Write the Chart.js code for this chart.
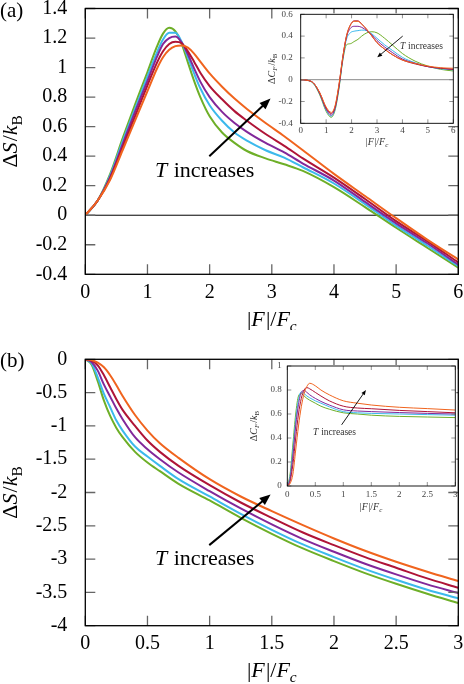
<!DOCTYPE html>
<html>
<head>
<meta charset="utf-8">
<script src="https://cdn.jsdelivr.net/npm/chart.js@4.4.0/dist/chart.umd.min.js"></script>
<style>
  html, body { margin: 0; padding: 0; background: #fff; }
  #wrap { position: relative; width: 464px; height: 684px; overflow: hidden; }
  canvas { position: absolute; }
</style>
</head>
<body>
<div id="wrap">
  <canvas id="mainA" width="464" height="330" style="left:0;top:0"></canvas>
  <canvas id="insetA" width="214" height="160" style="left:250px;top:0"></canvas>
  <canvas id="mainB" width="464" height="354" style="left:0;top:330px"></canvas>
  <canvas id="insetB" width="234" height="185" style="left:230px;top:340px"></canvas>
</div>
<script>
// 온도 순서: T1(가장 낮음, 초록) -> T5(가장 높음, 주황)
const seriesNames = ['T1', 'T2', 'T3', 'T4', 'T5'];
const seriesColors = ['#6eaf28', '#3cb9ec', '#82289a', '#af1437', '#f0641e'];

// (a) 본 그래프: ΔS/kB vs |F|/Fc
const xA = [0, 0.2, 0.4, 0.6, 0.8, 1.0, 1.15, 1.25, 1.35, 1.45, 1.55, 1.65, 1.75, 1.85, 2.0, 2.2, 2.4, 2.6, 2.9, 3.2, 3.5, 4.0, 4.5, 5.0, 5.5, 6.0];
const dSA_T1 = [0, 0.10, 0.28, 0.52, 0.75, 0.97, 1.14, 1.23, 1.27, 1.245, 1.16, 1.035, 0.91, 0.80, 0.67, 0.56, 0.49, 0.435, 0.385, 0.345, 0.30, 0.19, 0.055, -0.085, -0.22, -0.355];
const dSA_T2 = [0, 0.10, 0.27, 0.50, 0.72, 0.94, 1.10, 1.19, 1.235, 1.235, 1.175, 1.07, 0.96, 0.86, 0.745, 0.64, 0.56, 0.505, 0.44, 0.39, 0.325, 0.215, 0.075, -0.07, -0.205, -0.345];
const dSA_T3 = [0, 0.10, 0.26, 0.48, 0.70, 0.91, 1.07, 1.16, 1.20, 1.21, 1.17, 1.09, 0.995, 0.905, 0.80, 0.70, 0.625, 0.565, 0.49, 0.425, 0.35, 0.235, 0.09, -0.055, -0.19, -0.335];
const dSA_T4 = [0, 0.10, 0.25, 0.46, 0.67, 0.88, 1.03, 1.11, 1.16, 1.175, 1.165, 1.11, 1.04, 0.965, 0.875, 0.785, 0.705, 0.64, 0.55, 0.47, 0.385, 0.255, 0.11, -0.04, -0.175, -0.32];
const dSA_T5 = [0, 0.10, 0.24, 0.44, 0.64, 0.84, 0.99, 1.07, 1.12, 1.145, 1.15, 1.135, 1.095, 1.04, 0.96, 0.87, 0.79, 0.72, 0.625, 0.535, 0.44, 0.28, 0.13, -0.02, -0.165, -0.30];
const xTicksA = [0, 1, 2, 3, 4, 5, 6];
const yTicksA = [-0.4, -0.2, 0, 0.2, 0.4, 0.6, 0.8, 1, 1.2, 1.4];

// (a) 삽입 그래프: ΔCF/kB
const xIA = [0, 0.25, 0.5, 0.75, 1.0, 1.2, 1.35, 1.5, 1.65, 1.8, 1.95, 2.1, 2.25, 2.4, 2.6, 2.8, 3.0, 3.3, 3.6, 4.0, 4.5, 5.0, 5.5, 6.0];
const dCA_T1 = [0, -0.005, -0.035, -0.14, -0.29, -0.345, -0.28, -0.09, 0.17, 0.32, 0.33, 0.35, 0.37, 0.40, 0.43, 0.44, 0.43, 0.38, 0.32, 0.24, 0.17, 0.125, 0.095, 0.08];
const dCA_T2 = [0, -0.005, -0.035, -0.13, -0.28, -0.335, -0.27, -0.08, 0.18, 0.37, 0.43, 0.445, 0.45, 0.455, 0.45, 0.42, 0.38, 0.32, 0.27, 0.205, 0.155, 0.12, 0.10, 0.09];
const dCA_T3 = [0, -0.005, -0.03, -0.13, -0.27, -0.325, -0.26, -0.07, 0.19, 0.39, 0.47, 0.49, 0.49, 0.48, 0.45, 0.41, 0.36, 0.30, 0.25, 0.19, 0.15, 0.12, 0.105, 0.095];
const dCA_T4 = [0, -0.005, -0.03, -0.12, -0.26, -0.31, -0.25, -0.06, 0.20, 0.40, 0.50, 0.54, 0.54, 0.51, 0.46, 0.40, 0.34, 0.28, 0.23, 0.18, 0.145, 0.12, 0.105, 0.095];
const dCA_T5 = [0, -0.005, -0.03, -0.12, -0.25, -0.30, -0.24, -0.05, 0.20, 0.40, 0.50, 0.535, 0.535, 0.51, 0.46, 0.40, 0.34, 0.28, 0.23, 0.18, 0.15, 0.125, 0.11, 0.105];
const xTicksIA = [0, 1, 2, 3, 4, 5, 6];
const yTicksIA = [-0.4, -0.2, 0, 0.2, 0.4, 0.6];

// (b) 본 그래프
const xB = [0, 0.05, 0.1, 0.15, 0.2, 0.25, 0.3, 0.4, 0.5, 0.6, 0.75, 1.0, 1.25, 1.5, 1.75, 2.0, 2.25, 2.5, 2.75, 3.0];
const dSB_T1 = [0, -0.08, -0.33, -0.62, -0.85, -1.03, -1.17, -1.39, -1.55, -1.68, -1.87, -2.12, -2.38, -2.62, -2.84, -3.03, -3.21, -3.37, -3.52, -3.66];
const dSB_T2 = [0, -0.06, -0.27, -0.52, -0.72, -0.92, -1.07, -1.31, -1.46, -1.60, -1.80, -2.06, -2.32, -2.56, -2.78, -2.97, -3.15, -3.31, -3.46, -3.59];
const dSB_T3 = [0, -0.04, -0.17, -0.38, -0.56, -0.74, -0.90, -1.17, -1.35, -1.50, -1.70, -1.98, -2.24, -2.48, -2.70, -2.89, -3.07, -3.23, -3.38, -3.51];
const dSB_T4 = [0, -0.02, -0.09, -0.24, -0.42, -0.60, -0.76, -1.00, -1.22, -1.39, -1.60, -1.89, -2.15, -2.38, -2.60, -2.79, -2.97, -3.13, -3.29, -3.43];
const dSB_T5 = [0, -0.01, -0.05, -0.12, -0.24, -0.39, -0.55, -0.836, -1.07, -1.26, -1.48, -1.80, -2.06, -2.28, -2.49, -2.69, -2.875, -3.04, -3.19, -3.33];
const xTicksB = [0, 0.5, 1, 1.5, 2, 2.5, 3];
const yTicksB = [-4, -3.5, -3, -2.5, -2, -1.5, -1, -0.5, 0];

// (b) 삽입 그래프
const xIB = [0, 0.05, 0.1, 0.15, 0.2, 0.25, 0.3, 0.35, 0.4, 0.5, 0.6, 0.75, 1.0, 1.25, 1.5, 2.0, 2.5, 3.0];
const dCB_T1 = [0, 0.10, 0.35, 0.60, 0.75, 0.77, 0.75, 0.73, 0.715, 0.69, 0.665, 0.64, 0.61, 0.60, 0.59, 0.58, 0.575, 0.57];
const dCB_T2 = [0, 0.08, 0.30, 0.55, 0.72, 0.785, 0.77, 0.75, 0.735, 0.71, 0.69, 0.66, 0.62, 0.61, 0.605, 0.60, 0.595, 0.59];
const dCB_T3 = [0, 0.06, 0.25, 0.50, 0.68, 0.78, 0.795, 0.78, 0.76, 0.73, 0.705, 0.675, 0.635, 0.625, 0.62, 0.612, 0.605, 0.60];
const dCB_T4 = [0, 0.04, 0.18, 0.40, 0.60, 0.73, 0.80, 0.82, 0.81, 0.78, 0.75, 0.71, 0.665, 0.65, 0.644, 0.63, 0.62, 0.61];
const dCB_T5 = [0, 0.02, 0.10, 0.30, 0.50, 0.66, 0.77, 0.83, 0.856, 0.835, 0.80, 0.76, 0.71, 0.69, 0.675, 0.656, 0.645, 0.633];
const xTicksIB = [0, 0.5, 1, 1.5, 2, 2.5, 3];
const yTicksIB = [0, 0.2, 0.4, 0.6, 0.8, 1];

const FONT = '"Liberation Serif", "DejaVu Serif", serif';

// 이탤릭/아래첨자가 섞인 텍스트를 캔버스에 그림
function drawRich(ctx, segs, x, y, size, align, rot, color) {
    ctx.save();
    ctx.translate(x, y);
    if (rot) ctx.rotate(rot);
    ctx.fillStyle = color || '#000';
    ctx.textBaseline = 'alphabetic';
    ctx.textAlign = 'left';
    const fontOf = s => (s.i ? 'italic ' : '') + (s.sub ? size * 0.7 : size) + 'px ' + FONT;
    let w = 0;
    segs.forEach(s => { ctx.font = fontOf(s); w += ctx.measureText(s.t).width + (s.gap || 0) * size; });
    let cx = align === 'center' ? -w / 2 : (align === 'right' ? -w : 0);
    segs.forEach(s => {
        ctx.font = fontOf(s);
        ctx.fillText(s.t, cx, s.sub ? size * 0.22 : 0);
        cx += ctx.measureText(s.t).width + (s.gap || 0) * size;
    });
    ctx.restore();
}

// 안쪽 눈금 + 테두리 + 0 기준선
const framePlugin = {
    id: 'frame',
    beforeDraw(chart, args, o) {
        if (!o.fill) return;
        const a = chart.chartArea, ctx = chart.ctx;
        ctx.save();
        ctx.fillStyle = '#fff';
        ctx.fillRect(a.left - o.fill, a.top - o.fill, a.right - a.left + 2 * o.fill, a.bottom - a.top + 2 * o.fill);
        ctx.restore();
    },
    beforeDatasetsDraw(chart, args, o) {
        if (!o.zeroLine) return;
        const a = chart.chartArea, ctx = chart.ctx;
        const y0 = chart.scales.y.getPixelForValue(0);
        ctx.save();
        ctx.strokeStyle = o.zeroColor;
        ctx.lineWidth = o.zeroWidth;
        ctx.beginPath();
        ctx.moveTo(a.left, y0);
        ctx.lineTo(a.right, y0);
        ctx.stroke();
        ctx.restore();
    },
    afterDatasetsDraw(chart, args, o) {
        const a = chart.chartArea, ctx = chart.ctx;
        const sx = chart.scales.x, sy = chart.scales.y;
        ctx.save();
        ctx.strokeStyle = o.tickColor;
        ctx.lineWidth = o.tickWidth;
        ctx.beginPath();
        sx.ticks.forEach(t => {
            const px = sx.getPixelForValue(t.value);
            ctx.moveTo(px, a.bottom); ctx.lineTo(px, a.bottom - o.tickLen);
            ctx.moveTo(px, a.top); ctx.lineTo(px, a.top + o.tickLen);
        });
        sy.ticks.forEach(t => {
            const py = sy.getPixelForValue(t.value);
            ctx.moveTo(a.left, py); ctx.lineTo(a.left + o.tickLen, py);
            ctx.moveTo(a.right, py); ctx.lineTo(a.right - o.tickLen, py);
        });
        ctx.stroke();
        ctx.strokeStyle = '#000';
        ctx.lineWidth = o.borderWidth;
        ctx.strokeRect(a.left, a.top, a.right - a.left, a.bottom - a.top);
        ctx.restore();
    }
};

// 축 제목, 패널 라벨 (캔버스 좌표)
const textPlugin = {
    id: 'texts',
    afterDraw(chart, args, o) {
        (o.items || []).forEach(it => drawRich(chart.ctx, it.segs, it.x, it.y, it.size, it.align, it.rot, it.color));
    }
};

// "T increases" 화살표 주석 (데이터 좌표)
const notePlugin = {
    id: 'note',
    afterDatasetsDraw(chart, args, o) {
        if (!o.text) return;
        const ctx = chart.ctx, sx = chart.scales.x, sy = chart.scales.y;
        const x1 = sx.getPixelForValue(o.from[0]), y1 = sy.getPixelForValue(o.from[1]);
        const x2 = sx.getPixelForValue(o.to[0]), y2 = sy.getPixelForValue(o.to[1]);
        const ang = Math.atan2(y2 - y1, x2 - x1);
        ctx.save();
        ctx.strokeStyle = '#000';
        ctx.fillStyle = '#000';
        ctx.lineWidth = o.lineWidth;
        ctx.beginPath();
        ctx.moveTo(x1, y1);
        ctx.lineTo(x2 - Math.cos(ang) * o.head * 0.6, y2 - Math.sin(ang) * o.head * 0.6);
        ctx.stroke();
        ctx.beginPath();
        ctx.moveTo(x2, y2);
        ctx.lineTo(x2 - o.head * Math.cos(ang) + o.head * 0.4 * Math.sin(ang), y2 - o.head * Math.sin(ang) - o.head * 0.4 * Math.cos(ang));
        ctx.lineTo(x2 - o.head * Math.cos(ang) - o.head * 0.4 * Math.sin(ang), y2 - o.head * Math.sin(ang) + o.head * 0.4 * Math.cos(ang));
        ctx.closePath();
        ctx.fill();
        ctx.restore();
        drawRich(ctx, o.text, sx.getPixelForValue(o.at[0]), sy.getPixelForValue(o.at[1]), o.size, 'left', 0, o.color);
    }
};

function makeSets(xs, ys, width) {
    // 높은 온도부터 그려서 낮은 온도(초록)가 위에 오도록
    const sets = ys.map((arr, i) => ({
        label: seriesNames[i],
        data: arr.map((v, k) => ({ x: xs[k], y: v })),
        borderColor: seriesColors[i],
        borderWidth: width,
        pointRadius: 0,
        fill: false,
        cubicInterpolationMode: 'monotone'
    }));
    return sets.reverse();
}

const fmt = v => String(v);

function makeChart(id, c) {
    return new Chart(document.getElementById(id), {
        type: 'line',
        data: { datasets: makeSets(c.xs, c.ys, c.lineWidth) },
        options: {
            responsive: false,
            animation: false,
            events: [],
            layout: { autoPadding: false, padding: c.pad },
            plugins: {
                legend: { display: false },
                tooltip: { enabled: false },
                frame: c.frame,
                texts: { items: c.texts },
                note: c.note
            },
            scales: {
                x: {
                    type: 'linear', min: c.xRange[0], max: c.xRange[1],
                    grid: { display: false, drawTicks: false },
                    border: { display: false },
                    afterBuildTicks: s => { s.ticks = c.xTicks.map(v => ({ value: v })); },
                    afterFit: s => { s.height = c.xH; s.paddingLeft = 0; s.paddingRight = 0; },
                    ticks: { autoSkip: false, maxRotation: 0, padding: c.xPad, color: c.tickText,
                             font: { family: FONT, size: c.tickSize }, callback: fmt }
                },
                y: {
                    type: 'linear', min: c.yRange[0], max: c.yRange[1],
                    grid: { display: false, drawTicks: false },
                    border: { display: false },
                    afterBuildTicks: s => { s.ticks = c.yTicks.map(v => ({ value: v })); },
                    afterFit: s => { s.width = c.yW; s.paddingTop = 0; s.paddingBottom = 0; },
                    ticks: { autoSkip: false, padding: c.yPad, color: c.tickText,
                             font: { family: FONT, size: c.tickSize }, callback: fmt }
                }
            }
        },
        plugins: [framePlugin, textPlugin, notePlugin]
    });
}

const dS = [{ t: 'Δ' }, { t: 'S', i: 1, gap: 0.05 }, { t: '/' }, { t: 'k', i: 1 }, { t: 'B', sub: 1 }];
const dC = [{ t: 'Δ' }, { t: 'C', i: 1 }, { t: 'F', i: 1, sub: 1, gap: 0.1 }, { t: '/' }, { t: 'k', i: 1 }, { t: 'B', sub: 1 }];
const fF = [{ t: '|' }, { t: 'F', i: 1, gap: 0.05 }, { t: '|/' }, { t: 'F', i: 1 }, { t: 'c', i: 1, sub: 1 }];
const tInc = [{ t: 'T', i: 1, gap: 0.05 }, { t: ' increases' }];

const mainFrame = { tickLen: 10, tickColor: '#666', tickWidth: 1.3, borderWidth: 1.3, zeroLine: false };
const insetFrame = { tickLen: 4, tickColor: '#777', tickWidth: 0.8, borderWidth: 0.9, fill: 1 };

makeChart('mainA', {
    xs: xA, ys: [dSA_T1, dSA_T2, dSA_T3, dSA_T4, dSA_T5], lineWidth: 2,
    pad: { left: 0, right: 5.7, top: 8.5, bottom: 0 }, xH: 55.7, yW: 85.3,
    xRange: [0, 6], yRange: [-0.4, 1.4], xTicks: xTicksA, yTicks: yTicksA,
    xPad: 6, yPad: 18, tickSize: 20, tickText: '#000',
    frame: Object.assign({}, mainFrame, { zeroLine: true, zeroColor: '#000', zeroWidth: 1 }),
    texts: [
        { segs: [{ t: '(a)' }], x: 0, y: 16.5, size: 21, align: 'left' },
        { segs: dS, x: 17, y: 141.4, size: 22, align: 'center', rot: -Math.PI / 2 },
        { segs: fF, x: 271.8, y: 326, size: 22, align: 'center' }
    ],
    note: { text: tInc, at: [1.12, 0.26], size: 22, from: [1.995, 0.40], to: [2.98, 0.79], lineWidth: 2, head: 11 }
});

makeChart('insetA', {
    xs: xIA, ys: [dCA_T1, dCA_T2, dCA_T3, dCA_T4, dCA_T5], lineWidth: 1,
    pad: { left: 0, right: 10.7, top: 14.3, bottom: 0 }, xH: 36.7, yW: 50.7,
    xRange: [0, 6], yRange: [-0.4, 0.6], xTicks: xTicksIA, yTicks: yTicksIA,
    xPad: 2, yPad: 8, tickSize: 9, tickText: '#444',
    frame: Object.assign({}, insetFrame, { zeroLine: true, zeroColor: '#888', zeroWidth: 1 }),
    texts: [
        { segs: dC, x: 24.5, y: 68.8, size: 10, align: 'center', rot: -Math.PI / 2, color: '#333' },
        { segs: fF, x: 127, y: 144.5, size: 10, align: 'center', color: '#333' }
    ],
    note: { text: tInc, at: [3.9, 0.28], size: 9.5, color: '#333', from: [4.01, 0.40], to: [3.01, 0.205], lineWidth: 0.9, head: 5 }
});

makeChart('mainB', {
    xs: xB, ys: [dSB_T1, dSB_T2, dSB_T3, dSB_T4, dSB_T5], lineWidth: 2,
    pad: { left: 0, right: 5.7, top: 29.3, bottom: 0 }, xH: 58.3, yW: 85.3,
    xRange: [0, 3], yRange: [-4, 0], xTicks: xTicksB, yTicks: yTicksB,
    xPad: 6, yPad: 18, tickSize: 20, tickText: '#000',
    frame: mainFrame,
    texts: [
        { segs: [{ t: '(b)' }], x: 0, y: 36.7, size: 21, align: 'left' },
        { segs: dS, x: 17, y: 162.5, size: 22, align: 'center', rot: -Math.PI / 2 },
        { segs: fF, x: 271.8, y: 346.7, size: 22, align: 'center' }
    ],
    note: { text: tInc, at: [0.56, -3.093], size: 22, from: [0.997, -2.79], to: [1.49, -2.03], lineWidth: 2, head: 11 }
});

makeChart('insetB', {
    xs: xIB, ys: [dCB_T1, dCB_T2, dCB_T3, dCB_T4, dCB_T5], lineWidth: 1,
    pad: { left: 0, right: 8.7, top: 26, bottom: 0 }, xH: 39, yW: 57.3,
    xRange: [0, 3], yRange: [0, 1], xTicks: xTicksIB, yTicks: yTicksIB,
    xPad: 3, yPad: 5.5, tickSize: 9, tickText: '#444',
    frame: insetFrame,
    texts: [
        { segs: dC, x: 27, y: 86, size: 10, align: 'center', rot: -Math.PI / 2, color: '#333' },
        { segs: fF, x: 141, y: 169.5, size: 10, align: 'center', color: '#333' }
    ],
    note: { text: tInc, at: [0.46, 0.425], size: 9.5, color: '#333', from: [0.97, 0.51], to: [1.405, 0.8], lineWidth: 0.9, head: 5 }
});
</script>
</body>
</html>
